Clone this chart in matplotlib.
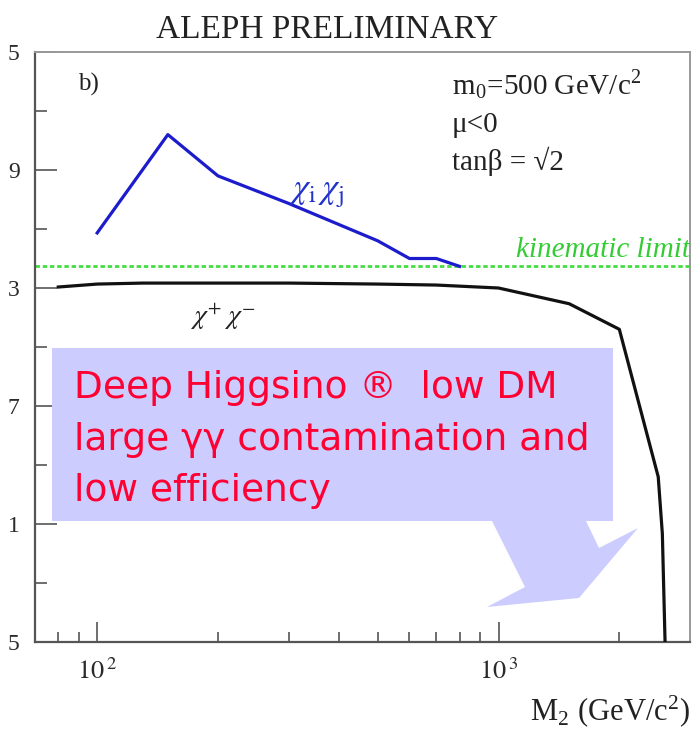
import matplotlib
matplotlib.use("Agg")
import matplotlib.pyplot as plt
from matplotlib.patches import Polygon
from matplotlib.ticker import FixedLocator, NullFormatter

plt.rcParams["mathtext.fontset"] = "stix"
plt.rcParams["font.family"] = ["Liberation Serif", "DejaVu Serif"]

W, H = 694, 737

# chi_i chi_j limit (blue)
m2_ij = [100, 150, 200, 300, 500, 600, 700, 800]
mchi_ij = [95.8, 100.8, 98.7, 97.3, 95.4, 94.5, 94.5, 94.1]
# chi+ chi- limit (black)
m2_pm = [80, 100, 130, 300, 500, 700, 1000, 1500, 2000, 2500, 2560, 2600]
mchi_pm = [93.05, 93.2, 93.25, 93.25, 93.2, 93.15, 93.0, 92.2, 90.9, 83.4, 80.5, 75.0]
kin_limit = 94.1

y_major = [75, 81, 87, 93, 99, 105]
y_minor = [78, 84, 90, 96, 102]
y_labels = ["5", "1", "7", "3", "9", "5"]
x_major = [100, 1000]
x_minor = [80, 90, 200, 300, 400, 500, 600, 700, 800, 900, 2000]
x_labels = [r"$10^{\,2}$", r"$10^{\,3}$"]

info_lines = [r"m$_\mathregular{0}$=500 GeV/c$^\mathregular{2}$", "μ<0", "tanβ = √2"]
note_lines = ["Deep Higgsino ®  low DM", "large γγ contamination and", "low efficiency"]


def px(x, y):
    """pixel position (top-left origin) -> figure fraction"""
    return x / W, 1 - y / H


fig = plt.figure(figsize=(W / 100, H / 100), dpi=100, facecolor="white")
ax = fig.add_axes([35 / W, 1 - 642 / H, (690 - 35) / W, (642 - 52) / H])
ax.set_xscale("log")
ax.set_xlim(70, 3000)
ax.set_ylim(75, 105)

ax.axhline(kin_limit, color="#44dd44", lw=2.0, dashes=(1.6, 1.0), zorder=2)
ax.plot(m2_ij, mchi_ij, color="#1c1ccc", lw=2.3, zorder=3)
ax.plot(m2_pm, mchi_pm, color="#111111", lw=2.3, zorder=3)

# ticks
ax.xaxis.set_major_locator(FixedLocator(x_major))
ax.xaxis.set_minor_locator(FixedLocator(x_minor))
ax.xaxis.set_minor_formatter(NullFormatter())
ax.set_xticklabels(x_labels)
ax.yaxis.set_major_locator(FixedLocator(y_major))
ax.yaxis.set_minor_locator(FixedLocator(y_minor))
ax.set_yticklabels(y_labels)
ax.tick_params(axis="both", which="both", direction="in", color="#555555",
               width=1.2, labelcolor="#2a2a2a", top=False, right=False)
ax.tick_params(axis="x", which="major", length=14.5, pad=12, labelsize=19)
ax.tick_params(axis="x", which="minor", length=7.5)
ax.tick_params(axis="y", which="major", length=16, pad=11, labelsize=17)
ax.tick_params(axis="y", which="minor", length=8.5)
for side in ["left", "bottom"]:
    ax.spines[side].set_color("#555555")
    ax.spines[side].set_linewidth(1.6)
for side in ["top", "right"]:
    ax.spines[side].set_color("#999999")
    ax.spines[side].set_linewidth(1.4)

# annotations inside the plot
ax.text(0.065, 0.965, "b)", transform=ax.transAxes, fontsize=18, va="top",
        color="#222222")
for i, line in enumerate(info_lines):
    fig.text(*px(452, 94 + i * 38), line, fontsize=21, va="baseline", color="#222222")
fig.text(*px(289, 198), r"$\chi_{\rm i}\,\chi_{\rm j}$", fontsize=25, color="#2233cc",
         va="baseline")
fig.text(*px(190, 324), r"$\chi^{+}\;\chi^{-}$", fontsize=20, color="#222222",
         va="baseline")
fig.text(*px(516, 257), "kinematic limit", fontsize=21, style="italic",
         color="#33cc33", va="baseline")

# title and axis label
fig.text(*px(327, 30), "ALEPH PRELIMINARY", fontsize=24, ha="center", va="center",
         color="#222222")
fig.text(*px(690, 712), r"M$_\mathregular{2}$ (GeV/c$^\mathregular{2}$)", fontsize=22,
         ha="right", va="center", color="#222222")

# lavender call-out box
box = [(52, 348), (613, 348), (613, 521), (586, 521), (599, 548), (638, 528),
       (579, 598), (487, 607), (525, 587), (492, 521), (52, 521)]
fig.add_artist(Polygon([px(x, y) for x, y in box], closed=True,
                       transform=fig.transFigure, facecolor="#ccccff",
                       edgecolor="none", zorder=5))
for i, line in enumerate(note_lines):
    fig.text(*px(74, 398 + i * 51.5), line, fontsize=27, color="#ff0033",
             family="DejaVu Sans", va="baseline", zorder=6)

fig.savefig("out.png", dpi=100, facecolor="white")
